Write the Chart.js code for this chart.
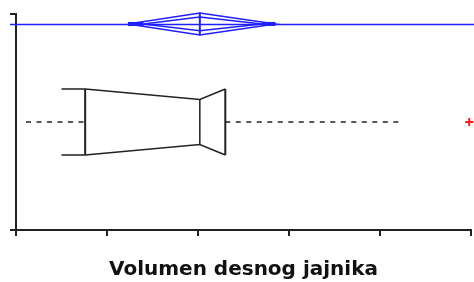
<!DOCTYPE html>
<html>
<head>
<meta charset="utf-8">
<script src="https://cdn.jsdelivr.net/npm/chart.js@4"></script>
<style>
  html, body { margin: 0; padding: 0; background: #fff; }
  #wrap { width: 474px; height: 282px; position: relative; }
</style>
</head>
<body>
<div id="wrap"><canvas id="c" width="474" height="282"></canvas></div>
<script>
// ---- data (x axis has unlabeled ticks) ----
const axisTitle = 'Volumen desnog jajnika';
const xTicks = [0, 5, 10, 15, 20, 25];
// whisker low, Q1, median, Q3, whisker high
const boxStats = [0.55, 3.8, 10.1, 11.5, 21.0];
// lower end of the notch bracket
const notchLow = [2.5];
const outliers = [24.9];
// mean diamond: lower CI, mean, upper CI
const meanDiamond = [6.15, 10.1, 14.25];
// overlap marks (inner diamond tips)
const overlapMarks = [7.0, 13.5];

// ---- layout constants ----
const ROW_BOX = 0.5, ROW_MEAN = 0.954;
const BOX_H = 0.153, NOTCH_H = 0.104, DIA_H = 0.051, DIA_IN_H = 0.032;
const INK = '#222222', BLUE = '#1f1fff', RED = '#ff1a1a';
const DASH = [5, 5.5];

const [wLo, q1, med, q3, wHi] = boxStats;
const [ciLo, mean, ciHi] = meanDiamond;
const [ovLo, ovHi] = overlapMarks;

function line(points, opts) {
  return Object.assign({
    type: 'scatter', showLine: true, data: points, pointRadius: 0,
    borderColor: INK, borderWidth: 1.5, fill: false, tension: 0, clip: false
  }, opts || {});
}

const datasets = [
  // mean diamond (outer)
  line([{x: ciLo, y: ROW_MEAN}, {x: mean, y: ROW_MEAN + DIA_H}, {x: ciHi, y: ROW_MEAN},
        {x: mean, y: ROW_MEAN - DIA_H}, {x: ciLo, y: ROW_MEAN}], {borderColor: BLUE, borderWidth: 1.5}),
  // inner diamond
  line([{x: ovLo, y: ROW_MEAN}, {x: mean, y: ROW_MEAN + DIA_IN_H}, {x: ovHi, y: ROW_MEAN},
        {x: mean, y: ROW_MEAN - DIA_IN_H}, {x: ovLo, y: ROW_MEAN}], {borderColor: BLUE, borderWidth: 1.5}),
  // mean line
  line([{x: mean, y: ROW_MEAN + DIA_H}, {x: mean, y: ROW_MEAN - DIA_H}], {borderColor: BLUE, borderWidth: 2}),
  // thick end segments
  line([{x: ciLo, y: ROW_MEAN}, {x: ovLo, y: ROW_MEAN}], {borderColor: BLUE, borderWidth: 4}),
  line([{x: ovHi, y: ROW_MEAN}, {x: ciHi, y: ROW_MEAN}], {borderColor: BLUE, borderWidth: 4}),
  // whiskers (dashed)
  line([{x: wLo, y: ROW_BOX}, {x: q1, y: ROW_BOX}], {borderDash: DASH, borderWidth: 1.5}),
  line([{x: q3, y: ROW_BOX}, {x: wHi, y: ROW_BOX}], {borderDash: DASH, borderWidth: 1.5}),
  // box upper outline
  line([{x: notchLow[0], y: ROW_BOX + BOX_H}, {x: q1, y: ROW_BOX + BOX_H},
        {x: med, y: ROW_BOX + NOTCH_H}, {x: q3, y: ROW_BOX + BOX_H}]),
  // box lower outline
  line([{x: notchLow[0], y: ROW_BOX - BOX_H}, {x: q1, y: ROW_BOX - BOX_H},
        {x: med, y: ROW_BOX - NOTCH_H}, {x: q3, y: ROW_BOX - BOX_H}]),
  // verticals
  line([{x: q1, y: ROW_BOX + BOX_H}, {x: q1, y: ROW_BOX - BOX_H}], {borderWidth: 2}),
  line([{x: med, y: ROW_BOX + NOTCH_H}, {x: med, y: ROW_BOX - NOTCH_H}]),
  line([{x: q3, y: ROW_BOX + BOX_H}, {x: q3, y: ROW_BOX - BOX_H}], {borderWidth: 2}),
  // outliers
  {type: 'scatter', data: outliers.map(v => ({x: v, y: ROW_BOX})), pointStyle: 'cross',
   pointRadius: 4, borderColor: RED, borderWidth: 2, backgroundColor: RED, clip: false}
];

const meanRefLine = {
  id: 'meanRefLine',
  beforeDatasetsDraw(chart) {
    const {ctx, chartArea, scales} = chart;
    const y = Math.round(scales.y.getPixelForValue(ROW_MEAN)) + 0.5;
    ctx.save();
    ctx.strokeStyle = BLUE;
    ctx.lineWidth = 1.5;
    ctx.beginPath();
    ctx.moveTo(chartArea.left - 6, y);
    ctx.lineTo(chart.width, y);
    ctx.stroke();
    ctx.restore();
  }
};

new Chart(document.getElementById('c'), {
  type: 'scatter',
  data: { datasets },
  plugins: [meanRefLine],
  options: {
    responsive: false,
    animation: false,
    events: [],
    layout: { padding: { left: 10, right: 3, top: 14, bottom: 0 }, autoPadding: false },
    plugins: { legend: { display: false }, tooltip: { enabled: false } },
    scales: {
      x: {
        type: 'linear', min: xTicks[0], max: xTicks[xTicks.length - 1],
        afterBuildTicks: (s) => { s.ticks = xTicks.map(v => ({value: v})); },
        ticks: { display: false },
        grid: { drawOnChartArea: false, drawTicks: true, tickLength: 6, color: INK, lineWidth: 2 },
        border: { display: true, color: INK, width: 2 },
        title: { display: true, text: axisTitle, color: '#111',
                 font: { family: 'DejaVu Sans', size: 20, weight: 'bold' },
                 padding: { top: 22, bottom: 0 } }
      },
      y: {
        type: 'linear', min: 0, max: 1,
        afterBuildTicks: (s) => { s.ticks = [{value: 0}, {value: 1}]; },
        ticks: { display: false },
        grid: { drawOnChartArea: false, drawTicks: true, tickLength: 6, color: INK, lineWidth: 2 },
        border: { display: true, color: INK, width: 2 }
      }
    }
  }
});
</script>
</body>
</html>
